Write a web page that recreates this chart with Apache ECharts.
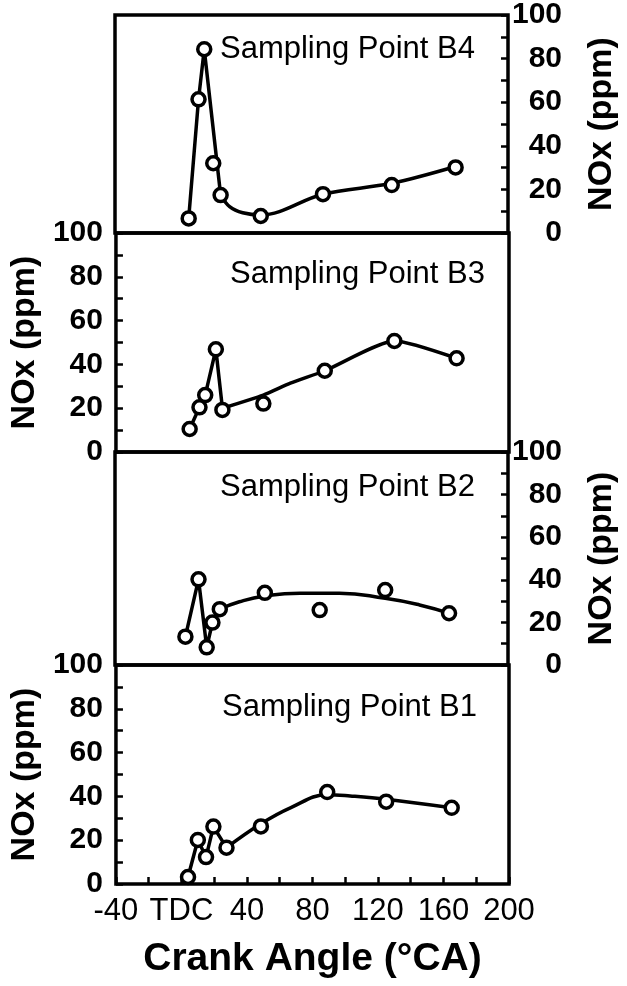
<!DOCTYPE html>
<html>
<head>
<meta charset="utf-8">
<script src="https://cdn.jsdelivr.net/npm/echarts@6/dist/echarts.min.js"></script>
<style>
  html, body { margin: 0; padding: 0; background: #fff; }
  #chart { width: 627px; height: 986px; }
</style>
</head>
<body>
<div id="chart"></div>
<script>
// panel titles, top to bottom
var panelNames = ['Sampling Point B4', 'Sampling Point B3', 'Sampling Point B2', 'Sampling Point B1']

// measured points [crank angle, NOx ppm]
var b4Points = [[5, 6.7], [11, 61.3], [14.5, 84.3], [20, 32], [24.5, 17.4], [49, 7.8], [87, 17.8], [129, 22], [168, 30.1]]
var b3Points = [[5, 10.5], [11, 20.4], [14.5, 26], [21, 46.9], [25, 19.2], [50, 22.1], [87.5, 37.1], [130, 50.7], [168, 42.8]]
var b2Points = [[3, 13.3], [11, 40.2], [16, 8.3], [19.5, 19.9], [24, 26.2], [51.5, 33.9], [85, 25.8], [125, 35.2], [164, 24.3]]
var b1Points = [[4, 3.2], [10, 20.1], [15, 12.3], [19.5, 26.2], [27.5, 16.6], [48.5, 26.3], [89, 42], [125, 37.6], [165, 34.8]]

// hand drawn lines: sharp part near TDC, then the smooth trend
var b4Spike = [[5, 6.7], [11, 61.3], [14.5, 84.3], [24.5, 17.4]]
var b4Trend = [[24.5, 17.4], [30, 12.1], [38, 9.3], [49, 8.3], [87, 17.8], [129, 22.8], [168, 30.5]]
var b3Spike = [[5, 10.5], [11, 20.4], [14.5, 26], [21, 46.9], [25, 20]]
var b3Trend = [[25, 20], [50, 26], [66.5, 31.4], [87.5, 37.1], [130, 50.7], [168, 42.8]]
var b2Spike = [[3, 13.3], [11, 40.2], [16, 8.3], [19.5, 19.9], [24, 26.2]]
var b2Trend = [[24, 26.2], [36, 29.7], [51.5, 32.4], [73, 33.7], [97, 33.7], [125, 31.3], [146, 28.2], [164, 24.3]]
var b1Spike = [[4, 3.2], [10, 20.1], [15, 12.3], [19.5, 26.2], [27.5, 16.6]]
var b1Trend = [[27.5, 16.6], [48.5, 27.5], [66.5, 34.8], [89, 40.8], [103, 40.2], [125, 38.7], [165, 34.8]]

// x ticks: 0 is written as TDC
var xTickValues = [-40, 0, 40, 80, 120, 160, 200]
var xTickNames = ['-40', 'TDC', '40', '80', '120', '160', '200']

var font = "'Liberation Sans', Arial, Helvetica, sans-serif"

var points = [b4Points, b3Points, b2Points, b1Points]
var spikes = [b4Spike, b3Spike, b2Spike, b1Spike]
var trends = [b4Trend, b3Trend, b2Trend, b1Trend]
var trendSmooth = [0.35, 0.2, 0.5, 0.4]

var grids = [
  {left: 115, right: 118, top: 15, height: 218},
  {left: 115, right: 118, top: 233, height: 219},
  {left: 115, right: 118, top: 452, height: 213},
  {left: 115, right: 118, top: 665, height: 219}
]
grids.forEach(function (g) {
  g.show = true
  g.borderColor = '#000'
  g.borderWidth = 3.5
  g.backgroundColor = 'transparent'
})

var titleRight = [147, 137, 147, 145]
var titleTop = [29, 254, 467, 687]

var xAxes = [], yAxes = [], series = [], titles = []
for (var i = 0; i < 4; i++) {
  var last = i === 3
  xAxes.push({
    type: 'value', gridIndex: i, min: -40, max: 200, interval: 40,
    axisLine: {show: false, onZero: false},
    axisTick: {show: last, inside: true, length: 7, lineStyle: {color: '#000', width: 2.5}},
    minorTick: {show: last, splitNumber: 2, length: 7, lineStyle: {color: '#000', width: 2.5}},
    splitLine: {show: false},
    axisLabel: {
      show: last, margin: 12, color: '#000', fontSize: 31, fontFamily: font,
      formatter: function (v) {
        var k = xTickValues.indexOf(v)
        return k >= 0 ? xTickNames[k] : ''
      }
    },
    name: last ? 'Crank Angle (°CA)' : '',
    nameLocation: 'middle', nameGap: 56,
    nameTextStyle: {color: '#000', fontSize: 39, fontWeight: 'bold', fontFamily: font}
  })
  var right = i % 2 === 0
  yAxes.push({
    type: 'value', gridIndex: i, min: 0, max: 100, interval: 20,
    position: right ? 'right' : 'left',
    axisLine: {show: false, onZero: false},
    axisTick: {show: true, inside: true, length: 7, lineStyle: {color: '#000', width: 2.5}},
    minorTick: {show: true, splitNumber: 2, length: 7, lineStyle: {color: '#000', width: 2.5}},
    splitLine: {show: false},
    axisLabel: {
      color: '#000', fontSize: 30, fontWeight: 'bold', fontFamily: font,
      align: 'right', margin: right ? 54 : 13
    },
    name: 'NOx (ppm)', nameLocation: 'middle', nameRotate: 90,
    nameGap: right ? 77 : 71,
    nameTextStyle: {color: '#000', fontSize: 34, fontWeight: 'bold', fontFamily: font}
  })
  titles.push({
    text: panelNames[i], right: titleRight[i], top: titleTop[i],
    textStyle: {color: '#000', fontSize: 31, fontWeight: 'normal', fontFamily: font}
  })
  series.push({
    type: 'line', xAxisIndex: i, yAxisIndex: i, data: spikes[i],
    symbol: 'none', lineStyle: {color: '#000', width: 3.5}, z: 2
  })
  series.push({
    type: 'line', xAxisIndex: i, yAxisIndex: i, data: trends[i], smooth: trendSmooth[i],
    symbol: 'none', lineStyle: {color: '#000', width: 3.5}, z: 2
  })
  series.push({
    type: 'scatter', xAxisIndex: i, yAxisIndex: i, data: points[i],
    symbol: 'circle', symbolSize: 13,
    itemStyle: {color: '#fff', borderColor: '#000', borderWidth: 3.5, opacity: 1}, z: 3
  })
}

var chart = echarts.init(document.getElementById('chart'), null, {renderer: 'canvas'})
chart.setOption({
  animation: false,
  backgroundColor: '#fff',
  title: titles,
  grid: grids,
  xAxis: xAxes,
  yAxis: yAxes,
  series: series
})
</script>
</body>
</html>
